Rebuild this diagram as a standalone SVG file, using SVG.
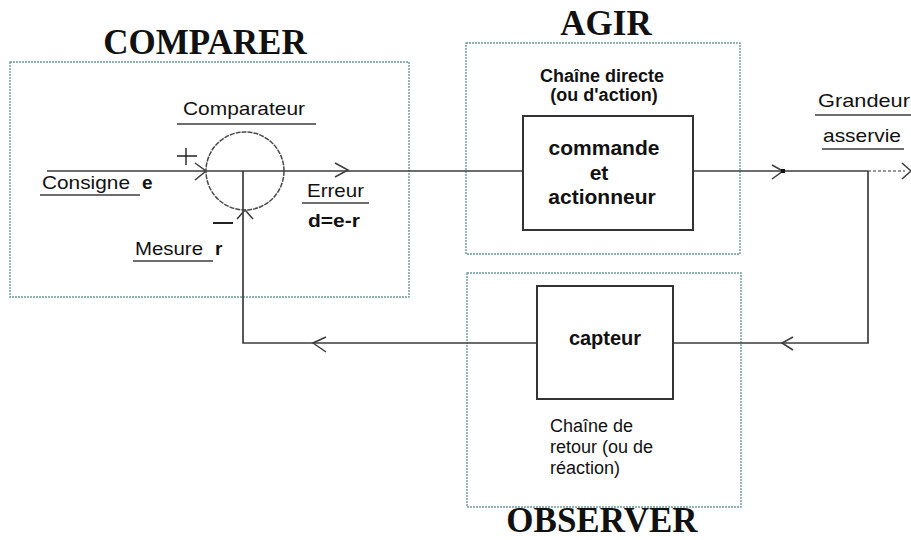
<svg xmlns="http://www.w3.org/2000/svg" width="911" height="540" viewBox="0 0 911 540">
<style>
.zone{fill:none;stroke:#6e9a9a;stroke-width:1.4;stroke-dasharray:2,1}
.title{font-family:"Liberation Serif","Times New Roman",serif;font-weight:bold;font-size:35px;fill:#111;text-anchor:middle}
.lbl{font-family:"Liberation Sans",Arial,sans-serif;font-size:19px;fill:#111}
.b{font-weight:bold}
.box{fill:#fff;stroke:#333;stroke-width:2}
.ln{fill:none;stroke:#3c3c3c;stroke-width:1.7}
.ul{stroke:#3c3c3c;stroke-width:1.4}
.arr{fill:none;stroke:#3c3c3c;stroke-width:1.5}
</style>
<rect width="911" height="540" fill="#fff"/>

<g id="zone-comparer">
<rect class="zone" x="10" y="62" width="399" height="235"/>
<text class="title" x="205" y="54">COMPARER</text>
</g>
<g id="zone-agir">
<rect class="zone" x="466" y="43" width="274" height="211"/>
<text class="title" x="606" y="35">AGIR</text>
</g>
<g id="zone-observer">
<rect class="zone" x="467" y="273" width="274" height="234"/>
<text class="title" x="602" y="532">OBSERVER</text>
</g>

<g id="connectors">
<path class="ln" d="M47,171 H523"/>
<path class="ln" d="M693,171 H868"/>
<path d="M868,171 H905" fill="none" stroke="#777" stroke-width="1.4" stroke-dasharray="3,2"/>
<path class="ln" d="M868,171 V343 H673"/>
<path class="ln" d="M537,343 H243 V171"/>
<path class="arr" d="M195,163 L206,171 L195,180"/>
<path class="arr" d="M335,163 L348,170 L335,177"/>
<path class="arr" d="M237,219 L245,210 L253,219"/>
<path class="arr" d="M772,165 L783,171 L772,179"/>
<path class="arr" d="M902,163 L911,171 L902,179"/>
<path class="arr" d="M326,337 L313,343 L326,352"/>
<path class="arr" d="M793,337 L782,343 L793,350"/>
<rect x="781" y="169" width="4" height="4" fill="#111"/>
</g>

<g id="comparateur">
<circle cx="245" cy="171" r="39" fill="none" stroke="#4a4a4a" stroke-width="1.5" stroke-dasharray="5,1"/>
<text class="lbl" x="183" y="115" textLength="122" lengthAdjust="spacingAndGlyphs">Comparateur</text>
<line class="ul" x1="177" y1="124" x2="316" y2="124"/>
<path d="M177,156 H197 M186,148 V165" stroke="#222" stroke-width="1.4"/>
<path d="M213,223 H233" stroke="#222" stroke-width="2"/>
</g>

<g id="consigne">
<text class="lbl" x="42" y="189" textLength="88" lengthAdjust="spacingAndGlyphs">Consigne</text>
<text class="lbl b" x="142" y="189">e</text>
<line class="ul" x1="40" y1="195" x2="140" y2="195"/>
</g>

<g id="mesure">
<text class="lbl" x="135" y="255" textLength="68" lengthAdjust="spacingAndGlyphs">Mesure</text>
<text class="lbl b" x="215" y="255">r</text>
<line class="ul" x1="133" y1="261" x2="213" y2="261"/>
</g>

<g id="erreur">
<text class="lbl" x="307" y="197" textLength="57" lengthAdjust="spacingAndGlyphs">Erreur</text>
<line class="ul" x1="302" y1="203" x2="369" y2="203"/>
<text class="lbl b" x="308" y="227" textLength="52" lengthAdjust="spacingAndGlyphs">d=e-r</text>
</g>

<g id="chaine-directe">
<text class="lbl b" x="602" y="82" text-anchor="middle" style="font-size:18px">Chaîne directe</text>
<text class="lbl b" x="604" y="101" text-anchor="middle" style="font-size:18px">(ou d'action)</text>
</g>

<g id="commande">
<rect class="box" x="523" y="116" width="170" height="114"/>
<text class="lbl b" x="604" y="155" text-anchor="middle" style="font-size:21px">commande</text>
<text class="lbl b" x="599" y="180" text-anchor="middle" style="font-size:21px">et</text>
<text class="lbl b" x="602" y="204" text-anchor="middle" style="font-size:21px">actionneur</text>
</g>

<g id="grandeur">
<text class="lbl" x="818" y="107" textLength="92" lengthAdjust="spacingAndGlyphs">Grandeur</text>
<line class="ul" x1="815" y1="115" x2="911" y2="115"/>
<text class="lbl" x="823" y="142" textLength="78" lengthAdjust="spacingAndGlyphs">asservie</text>
<line class="ul" x1="822" y1="149" x2="904" y2="149"/>
</g>

<g id="capteur">
<rect class="box" x="537" y="286" width="136" height="113"/>
<text class="lbl b" x="605" y="345" text-anchor="middle" style="font-size:20px">capteur</text>
</g>

<g id="chaine-retour">
<text class="lbl" x="550" y="432" style="font-size:18px">Chaîne de</text>
<text class="lbl" x="550" y="453" style="font-size:18px">retour (ou de</text>
<text class="lbl" x="550" y="474" style="font-size:18px">réaction)</text>
</g>
</svg>
